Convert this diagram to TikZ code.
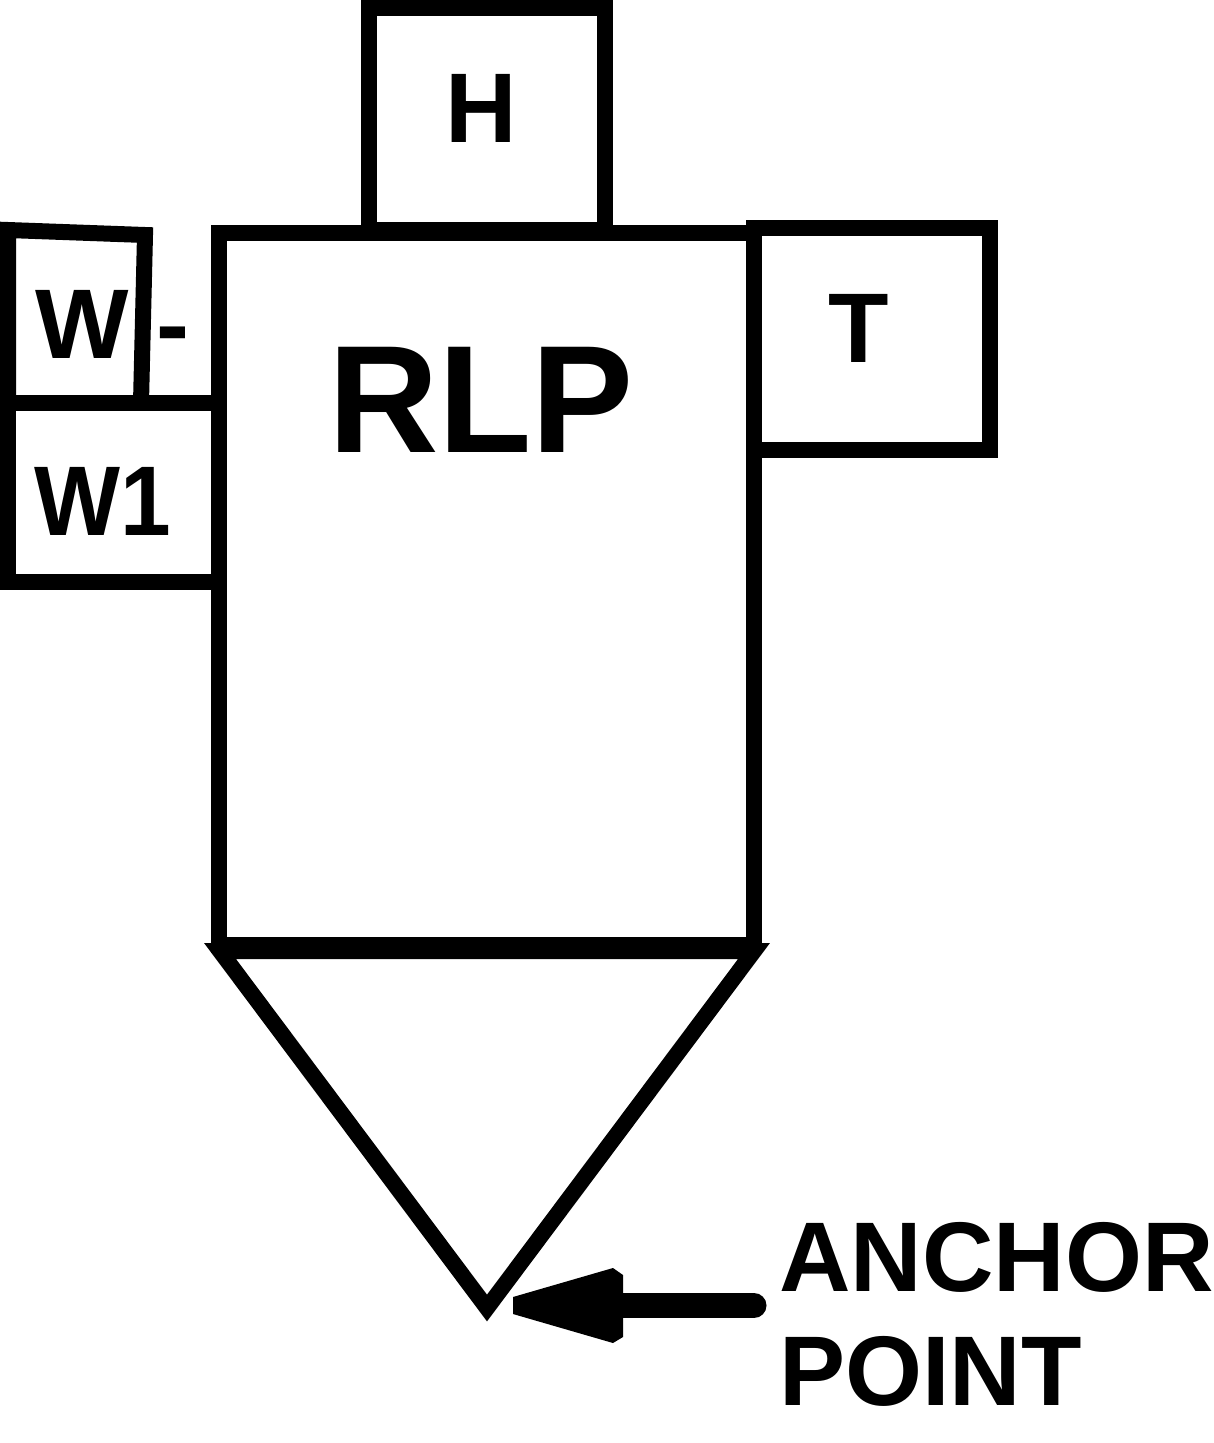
\documentclass[tikz,border=0pt]{standalone}
\usepackage{graphicx}
\usepackage{fontspec}
\setmainfont{Liberation Sans}
\begin{document}
\begin{tikzpicture}[x=1pt,y=-1pt,
  frame/.style={draw=black,line width=16pt,line join=miter},
  lbl/.style={font=\bfseries\fontsize{99}{99}\selectfont,inner sep=0pt,anchor=base},
  big/.style={font=\bfseries\fontsize{153}{153}\selectfont,inner sep=0pt,anchor=base},
  shaft/.style={draw=black,line width=25pt,line cap=round}]
\useasboundingbox[fill=white] (0,0) rectangle (1213,1443);
% main body
\draw[frame] (219,233) rectangle (753.5,945);
% cone
\draw[frame] (220,951) -- (754,951) -- (487,1308) -- cycle;
\coordinate (apex) at (487,1308);
% H box
\draw[frame] (369,8) rectangle (605,230);
% T box
\draw[frame] (753.5,228) rectangle (989.5,449.5);
% W- box (slanted)
\draw[frame] (8,403) -- (8,230) -- (145,235) -- (141,403);
% W1 box
\draw[frame] (8,403) rectangle (219,581.5);
% labels
\node[lbl] (H) at (481,142) {H};
\node[lbl] (W) at (82,358) {W};
\node[lbl] (dash) at (173,358) {-};
\node[lbl] (W1) at (103,535) {\scalebox{0.92}[1]{W1}};
\node[lbl] (T) at (859,362) {T};
\node[big] (RLP) at (481,452) {RLP};
\node[lbl,anchor=base west] (anchor) at (779,1291) {ANCHOR};
\node[lbl,anchor=base west] (point) at (779,1405) {POINT};
% arrow
\coordinate (tail) at (754,1305.5);
\coordinate (tip) at (513,1305.5);
\draw[shaft] (tail) -- (615,1305.5);
\fill[black] (tip) ++(0,-8.5) -- ++(100,-29) -- ++(10,7) -- ++(0,62) -- ++(-10,6) -- ++(-100,-29) -- cycle;
\end{tikzpicture}
\end{document}
